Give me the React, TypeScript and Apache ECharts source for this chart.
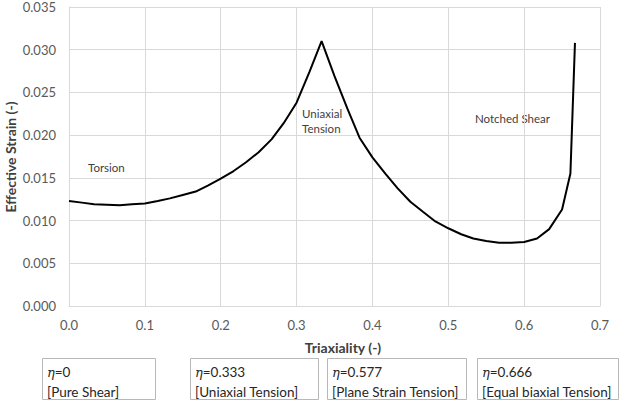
import React, { useEffect, useRef } from "react";
import * as echarts from "echarts";

const triaxiality = [
  0.0, 0.017, 0.033, 0.05, 0.067, 0.083, 0.1, 0.117, 0.133, 0.15, 0.167, 0.183,
  0.2, 0.217, 0.233, 0.25, 0.267, 0.283, 0.3, 0.317, 0.333, 0.35, 0.367, 0.383,
  0.4, 0.417, 0.433, 0.45, 0.467, 0.483, 0.5, 0.517, 0.533, 0.55, 0.567, 0.583,
  0.6, 0.617, 0.633, 0.65, 0.661, 0.667,
];
const effectiveStrain = [
  0.0123, 0.0121, 0.0119, 0.01185, 0.0118, 0.0119, 0.012, 0.0123, 0.0126, 0.013,
  0.0134, 0.0141, 0.0149, 0.0158, 0.0168, 0.018, 0.0195, 0.0214, 0.0238, 0.0274,
  0.031, 0.0269, 0.0231, 0.0197, 0.0174, 0.0155, 0.0138, 0.0122, 0.011, 0.0099,
  0.0091, 0.0084, 0.0079, 0.0076, 0.0074, 0.0074, 0.0075, 0.0079, 0.009, 0.0113,
  0.0155, 0.0308,
];

const xTitle = "Triaxiality (-)";
const yTitle = "Effective Strain (-)";
const regionLabels = ["Torsion", "Uniaxial\nTension", "Notched Shear"];
const boxEta = ["0", "0.333", "0.577", "0.666"];
const boxNames = ["[Pure Shear]", "[Uniaxial Tension]", "[Plane Strain Tension]", "[Equal biaxial Tension]"];

const FONT = "Lato, 'Open Sans', sans-serif";

export default function App() {
  const ref = useRef<HTMLDivElement>(null);
  useEffect(() => {
    if (!ref.current) return;
    const chart = echarts.init(ref.current, null, { renderer: "svg" });
    const data = triaxiality.map((x, i) => [x, effectiveStrain[i]]);

    const boxX = [[42, 155], [190, 318], [327, 466], [477, 618]];
    const boxes: any[] = [];
    boxX.forEach(([l, r], i) => {
      boxes.push({
        type: "rect",
        shape: { x: l + 0.5, y: 358.5, width: r - l, height: 41 },
        style: { fill: "#fff", stroke: "#b8b8b8", lineWidth: 1 },
      });
      boxes.push({
        type: "text",
        x: l + 5,
        y: 362,
        style: {
          text: `{i|η}=${boxEta[i]}\n${boxNames[i]}`,
          fontFamily: FONT,
          fontSize: 13.5,
          fill: "#262626",
          lineHeight: 20,
          rich: {
            i: { fontStyle: "italic", fontFamily: "'DejaVu Serif', serif", fontSize: 13, fill: "#262626", lineHeight: 20 },
          },
        },
      });
    });

    chart.setOption({
      animation: false,
      backgroundColor: "#fff",
      grid: { left: 69, right: 28, top: 7, bottom: 96, containLabel: false },
      xAxis: {
        type: "value",
        min: 0,
        max: 0.7,
        interval: 0.1,
        axisLine: { show: true, lineStyle: { color: "#d9d9d9" } },
        axisTick: { show: false },
        splitLine: { show: true, lineStyle: { color: "#d9d9d9", width: 1 } },
        axisLabel: {
          color: "#595959",
          fontFamily: FONT,
          fontSize: 13,
          margin: 12,
          formatter: (v: number) => v.toFixed(1),
        },
      },
      yAxis: {
        type: "value",
        min: 0,
        max: 0.035,
        interval: 0.005,
        axisLine: { show: true, lineStyle: { color: "#d9d9d9" } },
        axisTick: { show: false },
        splitLine: { show: true, lineStyle: { color: "#d9d9d9", width: 1 } },
        axisLabel: {
          color: "#595959",
          fontFamily: FONT,
          fontSize: 13,
          margin: 13,
          formatter: (v: number) => v.toFixed(3),
        },
      },
      series: [
        {
          type: "line",
          data,
          showSymbol: false,
          smooth: false,
          lineStyle: { color: "#000", width: 2 },
        },
      ],
      graphic: [
        {
          type: "text",
          x: 343,
          y: 347,
          style: { text: xTitle, fontFamily: FONT, fontSize: 14, fontWeight: "bold", fill: "#404040", align: "center", verticalAlign: "middle" },
        },
        {
          type: "text",
          x: 10,
          y: 157,
          rotation: Math.PI / 2,
          style: { text: yTitle, fontFamily: FONT, fontSize: 14, fontWeight: "bold", fill: "#404040", align: "center", verticalAlign: "middle" },
        },
        {
          type: "text",
          x: 88,
          y: 167,
          style: { text: regionLabels[0], fontFamily: FONT, fontSize: 11.5, fill: "#404040", verticalAlign: "middle" },
        },
        {
          type: "text",
          x: 302,
          y: 106,
          style: { text: regionLabels[1], fontFamily: FONT, fontSize: 11.5, fill: "#404040", lineHeight: 15 },
        },
        {
          type: "text",
          x: 475,
          y: 118,
          style: { text: regionLabels[2], fontFamily: FONT, fontSize: 11.5, fill: "#404040", verticalAlign: "middle" },
        },
        ...boxes,
      ],
    });
    return () => chart.dispose();
  }, []);
  return (
    <div
      ref={ref}
      style={{ position: "fixed", left: 0, top: 0, width: 628, height: 402, background: "#fff" }}
    />
  );
}
